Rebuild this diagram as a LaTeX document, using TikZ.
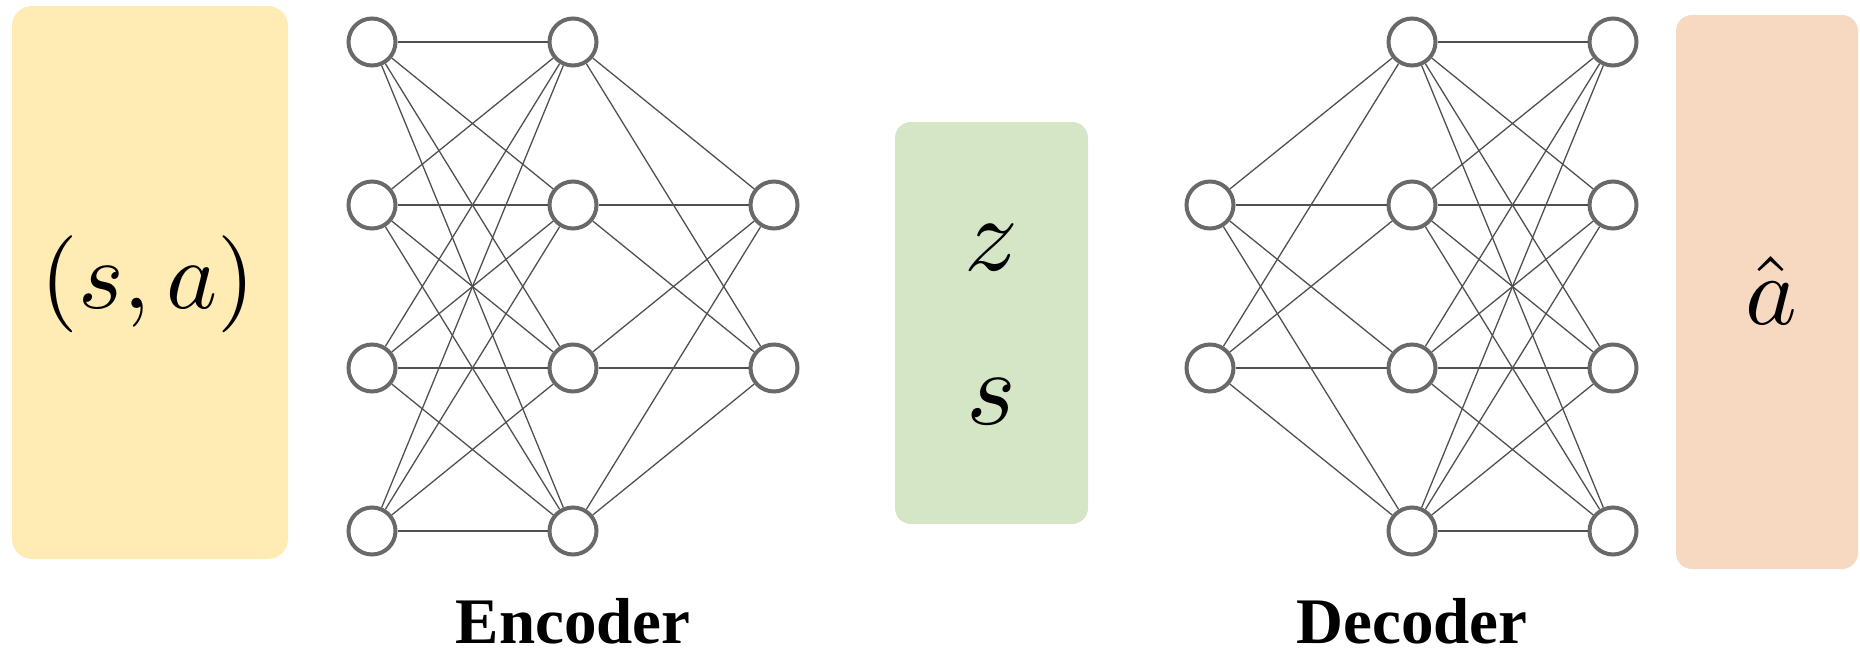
\documentclass[tikz,border=0pt]{standalone}
\usepackage{fontspec}
\newfontfamily\captionfont{Liberation Serif}
\definecolor{inputfill}{RGB}{255,235,180}
\definecolor{latentfill}{RGB}{213,230,199}
\definecolor{outputfill}{RGB}{247,216,193}
\definecolor{neurongray}{RGB}{105,105,105}
\definecolor{linkgray}{RGB}{80,80,80}
\begin{document}
\begin{tikzpicture}[x=0.5pt,y=-0.5pt,
  neuron/.style={circle, draw=neurongray, line width=2pt, fill=white,
                 minimum size=23.5pt, inner sep=0pt},
  link/.style={draw=linkgray, line width=0.65pt},
  panel/.style={draw=none, inner sep=0pt},
  caption/.style={font=\captionfont\bfseries\fontsize{32.5}{32.5}\selectfont,
                  anchor=base, inner sep=0pt}]

\useasboundingbox (0,0) rectangle (1860,659);

% coloured panels
\node[panel, fill=inputfill, rounded corners=10pt, minimum width=138pt, minimum height=276.5pt]
  (inbox) at (150,282.5) {};
\node[panel, fill=latentfill, rounded corners=8pt, minimum width=96.5pt, minimum height=201pt]
  (latbox) at (991.5,323) {};
\node[panel, fill=outputfill, rounded corners=8pt, minimum width=91pt, minimum height=277pt]
  (outbox) at (1767,292) {};

% panel contents (math set at 10pt and scaled up)
\node[inner sep=0pt] (sa) at (148,284) {\scalebox{4.85}{$(s,a)$}};
\node[inner sep=0pt] (zz) at (991.5,248) {\scalebox{5.3}{$z$}};
\node[inner sep=0pt] (ss) at (991.5,402) {\scalebox{5.3}{$s$}};
\node[inner sep=0pt] (ah) at (1771,290) {\scalebox{4.9}{$\hat{a}$}};

% encoder neurons
\foreach \r/\y in {1/42,2/205,3/368,4/531} {
  \node[neuron] (e1\r) at (372,\y) {};
  \node[neuron] (e2\r) at (573,\y) {};
}
\node[neuron] (e31) at (774,205) {};
\node[neuron] (e32) at (774,368) {};

% decoder neurons
\node[neuron] (d11) at (1210,205) {};
\node[neuron] (d12) at (1210,368) {};
\foreach \r/\y in {1/42,2/205,3/368,4/531} {
  \node[neuron] (d2\r) at (1412,\y) {};
  \node[neuron] (d3\r) at (1613,\y) {};
}

% encoder connections
\foreach \i in {1,...,4} {
  \foreach \j in {1,...,4} { \draw[link] (e1\i) -- (e2\j); }
  \foreach \j in {1,2} { \draw[link] (e2\i) -- (e3\j); }
}

% decoder connections
\foreach \i in {1,...,4} {
  \foreach \j in {1,2} { \draw[link] (d1\j) -- (d2\i); }
  \foreach \j in {1,...,4} { \draw[link] (d2\i) -- (d3\j); }
}

% captions
\node[caption] (enc) at (573,643) {Encoder};
\node[caption] (dec) at (1412,643) {Decoder};
\end{tikzpicture}
\end{document}
